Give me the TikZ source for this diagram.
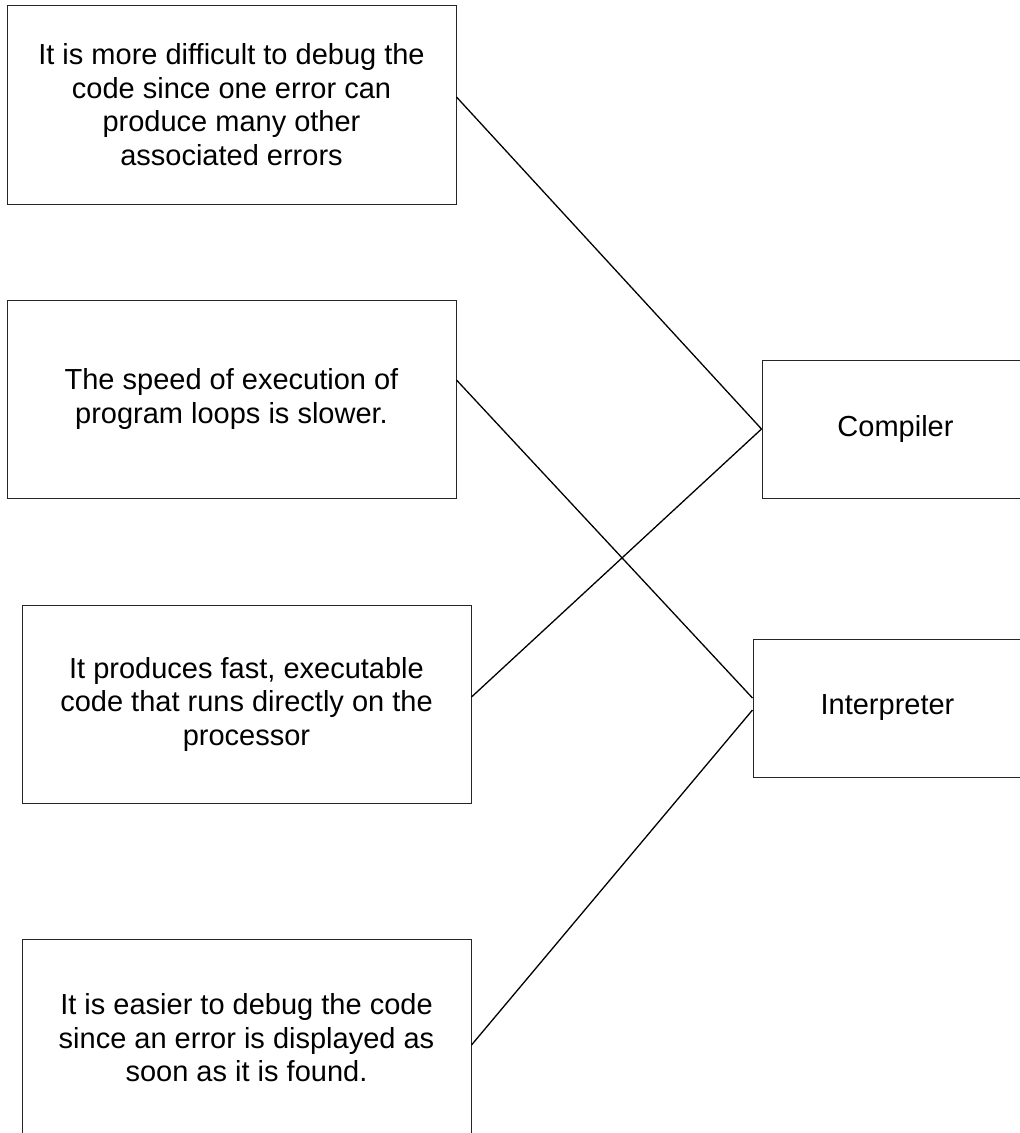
\documentclass[tikz,border=0pt]{standalone}
\usepackage{fontspec}
\setmainfont{Liberation Sans}
\begin{document}
\begin{tikzpicture}[x=1pt,y=-1pt,
  box/.style={draw=black!85, line width=1pt, rectangle, inner sep=0pt, align=center,
    font=\fontsize{29}{33.5}\selectfont},
  leftbox/.style={box, minimum width=449pt, minimum height=198pt},
  rightbox/.style={box, minimum height=138pt},
  link/.style={draw=black, line width=1.3pt}]
\useasboundingbox (0,0) rectangle (1020,1133);
\node[leftbox, minimum height=199pt] (b1) at (231.5,104.5) {It is more difficult to debug the\\code since one error can\\produce many other\\associated errors};
\node[leftbox] (b2) at (231.5,399) {The speed of execution of\\program loops is slower.};
\node[leftbox] (b3) at (246.5,704) {It produces fast, executable\\code that runs directly on the\\processor};
\node[leftbox] (b4) at (246.5,1038) {It is easier to debug the code\\since an error is displayed as\\soon as it is found.};
\node[rightbox, minimum width=267pt] (comp) at (895.5,429) {Compiler};
\node[rightbox, minimum width=269pt] (interp) at (887.5,708) {Interpreter};
\draw[link] ([yshift=7.5pt]b1.east) -- (comp.west);
\draw[link] ([yshift=19pt]b2.east) -- ([yshift=10pt]interp.west);
\draw[link] ([yshift=7pt]b3.east) -- (comp.west);
\draw[link] ([yshift=-7pt]b4.east) -- ([yshift=-2pt]interp.west);
\end{tikzpicture}
\end{document}
